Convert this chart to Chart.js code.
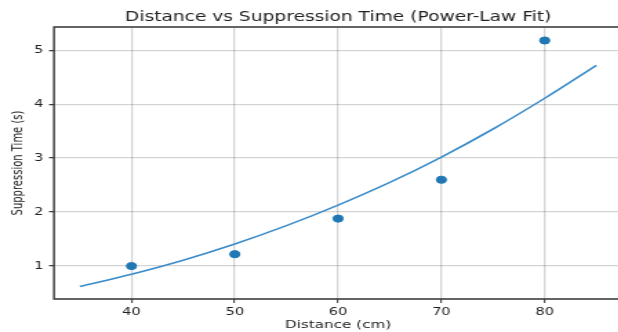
<!DOCTYPE html>
<html>
<head>
<meta charset="utf-8">
<script src="https://cdn.jsdelivr.net/npm/chart.js@4/dist/chart.umd.min.js"></script>
<style>
  html, body { margin: 0; padding: 0; background: #fff; overflow: hidden; width: 618px; height: 332px; }
  #caixa { width: 618px; height: 332px; overflow: hidden; }
  /* a figura original está esticada na horizontal */
  canvas { display: block; transform: scaleX(1.38); transform-origin: 0 0; }
</style>
</head>
<body>
<div id="caixa"><canvas id="grafico" width="490" height="332"></canvas></div>
<script>
// --- DADOS ---
// Pontos medidos (distância em cm, tempo em s)
const distancias = [40, 50, 60, 70, 80];
const tempos = [1.0, 1.22, 1.88, 2.6, 5.18];

const curvaX = [35, 40, 45, 50, 55, 60, 65, 70, 75, 80, 85];
const curvaY = [0.62, 0.85, 1.11, 1.41, 1.75, 2.13, 2.55, 3.02, 3.54, 4.11, 4.72];

// Rótulos dos eixos
const ticksX = [40, 50, 60, 70, 80];
const ticksY = [1, 2, 3, 4, 5];

const escala = 1.38; // mesmo valor do scaleX no CSS
const corPontos = '#1f77b4';
const corCurva = '#3a8cc9';
const corGrade = 'rgba(0,0,0,0.17)';
const corTexto = '#222';

// Moldura do gráfico (spines): topo, esquerda e base
const moldura = {
    id: 'moldura',
    afterDatasetsDraw(chart) {
        const a = chart.chartArea;
        const ctx = chart.ctx;
        ctx.save();
        ctx.strokeStyle = '#333';
        ctx.lineWidth = 1.4;
        ctx.beginPath();
        ctx.moveTo(a.right + 10, a.top);
        ctx.lineTo(a.left, a.top);
        ctx.lineTo(a.left, a.bottom);
        ctx.lineTo(a.right + 10, a.bottom);
        ctx.stroke();
        ctx.restore();
    }
};

new Chart(document.getElementById('grafico').getContext('2d'), {
    data: {
        datasets: [{
            type: 'scatter',
            label: 'Dados',
            data: distancias.map((d, i) => ({ x: d, y: tempos[i] })),
            backgroundColor: corPontos,
            borderColor: corPontos,
            pointRadius: 3.6,
            order: 2
        }, {
            type: 'line',
            label: 'Ajuste',
            data: curvaX.map((d, i) => ({ x: d, y: curvaY[i] })),
            borderColor: corCurva,
            borderWidth: 1.6,
            pointRadius: 0,
            fill: false,
            cubicInterpolationMode: 'monotone',
            order: 1
        }]
    },
    options: {
        responsive: false,
        animation: false,
        devicePixelRatio: 1,
        layout: { padding: 0 },
        plugins: {
            legend: { display: false },
            tooltip: { enabled: false },
            title: {
                display: true,
                text: 'Distance vs Suppression Time (Power-Law Fit)',
                color: corTexto,
                font: { family: 'DejaVu Sans', size: 13.5, weight: 'normal' },
                padding: { top: 9, bottom: 1.8 }
            }
        },
        scales: {
            x: {
                type: 'linear',
                min: 32.5,
                max: 87.5,
                afterBuildTicks: s => { s.ticks = ticksX.map(v => ({ value: v })); },
                afterFit: s => { s.height = 33; },
                grid: { color: corGrade, lineWidth: 1.3, tickLength: 4, tickColor: '#333', tickWidth: 1 },
                border: { display: false },
                ticks: { color: corTexto, padding: 3, font: { family: 'DejaVu Sans', size: 10.5 } },
                title: {
                    display: true,
                    text: 'Distance (cm)',
                    color: corTexto,
                    padding: 0,
                    font: { family: 'DejaVu Sans', size: 11 }
                }
            },
            y: {
                type: 'linear',
                min: 0.39,
                max: 5.43,
                afterBuildTicks: s => { s.ticks = ticksY.map(v => ({ value: v })); },
                afterFit: s => { s.width = 54 / escala; },
                grid: { color: corGrade, lineWidth: 1.3, tickLength: 3.6, tickColor: '#333', tickWidth: 1.2 },
                border: { display: false },
                ticks: { color: corTexto, padding: 4, font: { family: 'DejaVu Sans', size: 10.5 } },
                title: {
                    display: true,
                    text: 'Suppression Time (s)',
                    color: corTexto,
                    padding: { top: 7, bottom: 0 },
                    font: { family: 'DejaVu Sans', size: 10 }
                }
            },
            yDireita: {
                type: 'linear',
                position: 'right',
                min: 0.39,
                max: 5.43,
                afterFit: s => { s.width = 54 / escala; },
                grid: { display: false },
                border: { display: false },
                ticks: { display: false }
            }
        }
    },
    plugins: [moldura]
});
</script>
</body>
</html>
